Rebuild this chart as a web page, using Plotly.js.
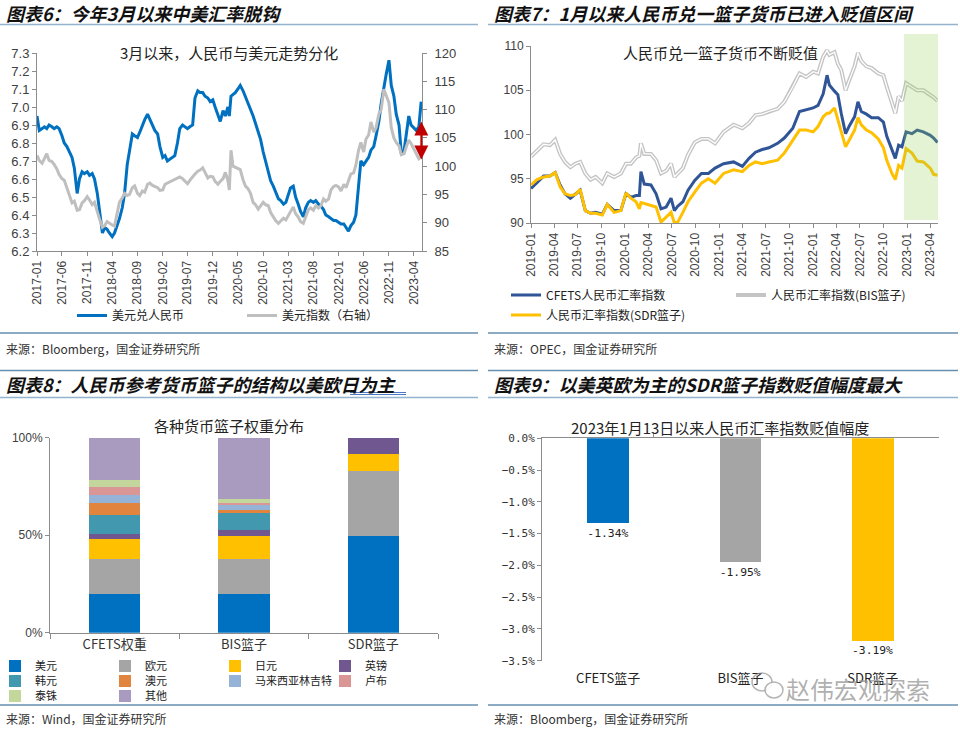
<!DOCTYPE html>
<html><head><meta charset="utf-8">
<script src="https://cdn.plot.ly/plotly-3.0.1.min.js"></script>
<style>html,body{margin:0;padding:0;background:#fff;}#chart{width:960px;height:730px;}</style>
</head><body><div id="chart"></div>
<script>
// ---------- Panel 1: USD/CNY vs DXY ----------
const p1Dates = [
'2017-01-01','2017-01-15','2017-02-01','2017-02-15','2017-03-01','2017-03-15','2017-04-01','2017-04-15','2017-05-01','2017-05-15','2017-06-01','2017-06-15','2017-07-01','2017-07-15','2017-08-01','2017-08-15','2017-09-01','2017-09-15','2017-10-01','2017-10-15','2017-11-01','2017-11-15','2017-12-01','2017-12-15',
'2018-01-01','2018-01-15','2018-02-01','2018-02-15','2018-03-01','2018-03-15','2018-04-01','2018-04-15','2018-05-01','2018-05-15','2018-06-01','2018-06-15','2018-07-01','2018-07-15','2018-08-01','2018-08-15','2018-09-01','2018-09-15','2018-10-01','2018-10-15','2018-11-01','2018-11-15','2018-12-01','2018-12-15',
'2019-01-01','2019-01-15','2019-02-01','2019-02-15','2019-03-01','2019-03-15','2019-04-01','2019-04-15','2019-05-01','2019-05-15','2019-06-01','2019-06-15','2019-07-01','2019-07-15','2019-08-01','2019-08-15','2019-09-01','2019-09-15','2019-10-01','2019-10-15','2019-11-01','2019-11-15','2019-12-01','2019-12-15',
'2020-01-01','2020-01-15','2020-02-01','2020-02-15','2020-03-01','2020-03-10','2020-03-20','2020-04-01','2020-04-15','2020-05-01','2020-05-15','2020-06-01','2020-06-15','2020-07-01','2020-07-15','2020-08-01','2020-08-15','2020-09-01','2020-09-15','2020-10-01','2020-10-15','2020-11-01','2020-11-15','2020-12-01','2020-12-15',
'2021-01-01','2021-01-15','2021-02-01','2021-02-15','2021-03-01','2021-03-15','2021-04-01','2021-04-15','2021-05-01','2021-05-15','2021-06-01','2021-06-15','2021-07-01','2021-07-15','2021-08-01','2021-08-15','2021-09-01','2021-09-15','2021-10-01','2021-10-15','2021-11-01','2021-11-15','2021-12-01','2021-12-15',
'2022-01-01','2022-01-15','2022-02-01','2022-02-15','2022-03-01','2022-03-15','2022-04-01','2022-04-15','2022-05-01','2022-05-15','2022-06-01','2022-06-15','2022-07-01','2022-07-15','2022-08-01','2022-08-15','2022-09-01','2022-09-15','2022-10-01','2022-10-15','2022-11-01','2022-11-15','2022-12-01','2022-12-15',
'2023-01-01','2023-01-15','2023-02-01','2023-02-15','2023-03-01','2023-03-15','2023-04-01','2023-04-15','2023-05-01','2023-05-15'];
const p1UsdCny = [
6.95,6.87,6.88,6.89,6.88,6.90,6.89,6.88,6.89,6.88,6.84,6.80,6.78,6.75,6.72,6.66,6.52,6.60,6.64,6.63,6.64,6.62,6.63,6.60,
6.52,6.42,6.30,6.33,6.32,6.30,6.28,6.30,6.34,6.38,6.44,6.52,6.68,6.76,6.85,6.84,6.83,6.86,6.90,6.93,6.96,6.93,6.90,6.87,
6.85,6.78,6.72,6.73,6.70,6.71,6.72,6.73,6.80,6.88,6.90,6.89,6.88,6.89,6.90,7.05,7.09,7.08,7.08,7.06,7.05,7.03,7.04,7.00,
6.96,6.92,6.98,6.95,7.00,6.95,7.06,7.07,7.08,7.10,7.12,7.09,7.06,7.02,6.99,6.95,6.91,6.86,6.82,6.75,6.70,6.64,6.59,6.56,6.53,
6.49,6.48,6.46,6.47,6.51,6.55,6.56,6.50,6.46,6.42,6.39,6.44,6.47,6.48,6.47,6.48,6.46,6.45,6.43,6.40,6.39,6.38,6.37,6.37,
6.36,6.35,6.35,6.33,6.31,6.34,6.36,6.40,6.55,6.70,6.68,6.70,6.72,6.76,6.78,6.84,6.92,7.02,7.12,7.18,7.26,7.12,7.06,6.96,
6.90,6.74,6.76,6.85,6.95,6.90,6.88,6.87,6.89,7.03];
const p1Dxy = [
101.9,101.0,100.5,101.5,102.2,101.0,100.8,100.3,99.5,98.5,97.8,97.5,96.0,95.0,93.5,93.8,92.2,92.3,93.5,93.9,94.6,94.0,93.2,93.6,
91.8,90.6,89.2,89.5,90.2,89.9,89.6,89.4,91.8,93.6,94.4,95.2,94.8,95.0,96.2,96.5,95.2,94.8,95.6,95.4,96.8,97.0,96.6,96.4,
96.2,95.7,95.8,96.8,97.0,97.3,97.4,97.6,97.9,98.1,97.8,97.3,96.9,97.5,98.2,98.6,99.1,99.3,99.7,98.8,97.9,98.2,98.1,97.3,
96.8,97.3,97.8,98.9,97.5,95.8,102.8,100.0,99.8,99.6,99.4,97.6,96.5,96.0,95.3,93.6,93.2,92.4,92.9,93.6,93.2,93.0,91.8,91.0,90.4,
89.9,90.3,90.8,90.5,91.2,91.8,92.8,91.6,91.0,90.2,89.9,91.0,92.3,92.6,92.2,93.0,92.6,93.0,94.2,93.8,94.2,95.8,96.4,96.6,
96.3,95.6,96.8,96.2,97.4,98.6,98.8,100.2,102.8,104.2,102.5,104.8,105.5,107.8,106.0,106.8,109.2,110.0,113.6,112.4,111.2,106.8,105.0,104.2,
103.6,102.0,102.2,103.5,104.6,104.0,103.0,102.0,101.3,101.6];
const p1Names = ['美元兑人民币', '美元指数（右轴）'];
const p1ArrowDate = '2023-05-16', p1ArrowTop = 6.92, p1ArrowBottom = 6.70;

// ---------- Panel 2: RMB indices ----------
const p2Dates = [
'2019-01-01','2019-01-24','2019-02-19','2019-03-16','2019-04-05','2019-04-24','2019-05-13','2019-06-03','2019-06-22','2019-07-11','2019-07-31','2019-08-20','2019-09-09','2019-10-05','2019-10-24','2019-11-20','2019-12-16',
'2020-01-05','2020-01-24','2020-02-13','2020-02-26','2020-03-03','2020-03-16','2020-04-11','2020-05-01','2020-05-20','2020-06-09','2020-06-28','2020-07-11','2020-07-24','2020-08-13','2020-09-02','2020-09-28','2020-10-24','2020-11-20','2020-12-16',
'2021-01-18','2021-02-26',
'2021-04-01','2021-04-27','2021-05-22','2021-06-17','2021-07-13','2021-08-16','2021-09-11','2021-10-14','2021-11-09','2021-12-05',
'2022-01-01','2022-01-20','2022-02-09','2022-02-24','2022-03-05','2022-03-25','2022-04-07','2022-04-20','2022-05-07','2022-05-22','2022-06-11','2022-06-24','2022-07-07','2022-07-27','2022-08-16','2022-09-11','2022-10-01','2022-10-14','2022-11-03','2022-11-16','2022-11-29','2022-12-12','2022-12-28',
'2023-01-20','2023-02-09','2023-03-05','2023-04-01','2023-04-14','2023-04-29'];
const p2Cfets = [
93.9,94.6,95.3,95.3,95.7,94.3,93.3,92.8,93.2,93.7,91.4,91.1,91.2,91.0,92.1,91.4,91.4,
93.3,92.9,93.1,93.1,95.8,94.4,94.3,93.3,91.6,91.8,92.8,91.4,91.9,92.4,93.7,94.8,95.6,95.6,96.2,
96.7,96.9,
96.4,97.3,98.0,98.3,98.5,99.0,99.6,100.7,102.6,102.8,
103.0,103.3,104.6,106.7,105.6,104.9,104.5,102.4,100.1,101.0,102.0,103.7,102.6,102.3,101.9,101.9,101.4,99.8,98.3,97.3,98.8,98.6,100.3,
100.1,100.5,100.3,99.9,99.6,99.1];
const p2Bis = [
97.5,98.2,98.9,98.8,99.4,97.8,96.9,96.3,96.7,96.9,95.6,94.9,95.2,94.5,95.6,95.2,95.6,
96.7,96.7,97.4,97.6,99.0,97.8,97.8,97.1,95.6,95.9,96.7,95.2,95.6,96.2,97.7,99.1,99.5,99.5,99.0,
100.3,101.1,
100.7,101.3,102.2,102.3,102.6,102.9,103.7,105.4,106.9,106.5,
107.1,106.9,108.8,109.5,109.0,109.3,108.0,107.3,105.0,106.2,107.7,109.2,108.3,107.7,107.5,106.9,106.7,105.4,103.5,102.4,104.3,103.8,105.8,
105.4,105.0,105.0,104.5,104.2,103.8];
const p2Sdr = [
94.3,94.9,95.2,95.3,95.7,94.1,93.3,93.1,93.2,93.8,91.4,91.1,91.1,90.9,92.1,91.2,91.4,
93.4,92.8,92.4,91.6,92.3,92.2,92.0,91.8,90.1,90.7,91.2,90.0,90.1,91.2,92.4,93.5,94.5,95.0,94.5,
95.6,96.0,
95.8,96.5,96.9,96.7,96.9,97.1,97.9,99.4,100.5,100.5,
100.3,100.9,102.0,102.4,102.4,103.0,101.6,100.3,98.6,99.4,100.5,101.9,101.1,100.5,100.2,99.5,98.5,97.1,95.6,94.9,96.5,96.2,98.4,
97.9,97.0,96.9,96.2,95.5,95.4];
const p2Names = ['CFETS人民币汇率指数', '人民币汇率指数(BIS篮子)', '人民币汇率指数(SDR篮子)'];
const p2ShadeStart = '2022-12-20';

// ---------- Panel 3: basket weights (%) ----------
const p3Categories = ['CFETS权重', 'BIS篮子', 'SDR篮子'];
const p3Currencies = ['美元','欧元','日元','英镑','韩元','澳元','马来西亚林吉特','卢布','泰铢','其他'];
const p3Usd   = [19.8, 19.7, 49.45];
const p3Eur   = [18.1, 17.9, 33.41];
const p3Jpy   = [10.0, 12.0, 8.65];
const p3Gbp   = [2.7, 3.1, 8.49];
const p3Krw   = [9.6, 8.5, 0];
const p3Aud   = [6.2, 1.7, 0];
const p3Myr   = [4.4, 2.6, 0];
const p3Rub   = [4.1, 0.9, 0];
const p3Thb   = [3.4, 2.2, 0];
const p3Other = [21.7, 31.4, 0];

// ---------- Panel 4: depreciation since 2023-01-13 (%) ----------
const p4Categories = ['CFETS篮子', 'BIS篮子', 'SDR篮子'];
const p4Values = [-1.34, -1.95, -3.19];

// ---------- helpers ----------
const W = 960, H = 730;
const fx = x => x / W;
const fy = y => 1 - y / H;
const tickFont = {family: 'Liberation Sans, Arial, sans-serif', size: 12, color: '#404040'};
const cjk = 'Noto Sans CJK SC, sans-serif';
const axisGray = '#8c8c8c';

const p3Series = [p3Usd,p3Eur,p3Jpy,p3Gbp,p3Krw,p3Aud,p3Myr,p3Rub,p3Thb,p3Other];
const p3Colors = ['#0070C0','#A5A5A5','#FFC000','#71578F','#4198AF','#E0843E','#95B3D7','#D99694','#C3D69B','#A89BBF'];
const p3Legends = ['legend4','legend4','legend4','legend4','legend5','legend5','legend5','legend5','legend6','legend6'];
const p4Colors = ['#0070C0','#A5A5A5','#FFC000'];

const traces = [
  {type:'scatter', mode:'lines', x:p1Dates, y:p1UsdCny, xaxis:'x', yaxis:'y', name:p1Names[0],
   line:{color:'#0070C0', width:3}, legend:'legend'},
  {type:'scatter', mode:'lines', x:p1Dates, y:p1Dxy, xaxis:'x', yaxis:'y2', name:p1Names[1],
   line:{color:'#BFBFBF', width:3}, legend:'legend'},
  {type:'scatter', mode:'lines', x:p2Dates, y:p2Bis, xaxis:'x2', yaxis:'y3', name:p2Names[1],
   line:{color:'#C4C4C4', width:4}, legend:'legend2', legendrank:2},
  {type:'scatter', mode:'lines', x:p2Dates, y:p2Bis, xaxis:'x2', yaxis:'y3', name:p2Names[1],
   line:{color:'#FFFFFF', width:1.3}, showlegend:false},
  {type:'scatter', mode:'lines', x:p2Dates, y:p2Cfets, xaxis:'x2', yaxis:'y3', name:p2Names[0],
   line:{color:'#2F5597', width:3}, legend:'legend2', legendrank:1},
  {type:'scatter', mode:'lines', x:p2Dates, y:p2Sdr, xaxis:'x2', yaxis:'y3', name:p2Names[2],
   line:{color:'#FFC000', width:3}, legend:'legend3'}
];
p3Series.forEach((s, i) => traces.push({
  type:'bar', x:p3Categories, y:s, xaxis:'x3', yaxis:'y4', name:p3Currencies[i],
  marker:{color:p3Colors[i]}, width:0.395, legend:p3Legends[i]
}));
traces.push({
  type:'bar', x:p4Categories, y:p4Values, xaxis:'x4', yaxis:'y5', showlegend:false,
  marker:{color:p4Colors}, width:0.315,
  text:p4Values.map(v => v.toFixed(2) + '%'), textposition:'outside', cliponaxis:false,
  textfont:{family:'DejaVu Sans Mono, monospace', size:12, color:'#222'}
});
traces.push({
  type:'scatter', mode:'markers', x:p4Categories, y:[0,0,0], xaxis:'x5', yaxis:'y5',
  marker:{opacity:0}, showlegend:false, hoverinfo:'skip'
});

const baseAx = {showgrid:false, zeroline:false, showline:true, linecolor:axisGray, linewidth:1,
  ticks:'outside', ticklen:4, tickcolor:axisGray, tickfont:tickFont};

const legendBase = {orientation:'h', xanchor:'left', yanchor:'middle', bgcolor:'rgba(0,0,0,0)',
  font:{family:cjk, size:12, color:'#222'}, traceorder:'normal', itemclick:false};
const legendBars = Object.assign({}, legendBase, {font:{family:cjk, size:11, color:'#222'}, entrywidth:65});

const headerFont = {family:cjk, size:18, weight:'bold', style:'italic', color:'#111'};
const subTitleFont = {family:cjk, size:15, color:'#222'};
const srcFont = {family:cjk, size:12, color:'#333'};

const ann = (x, y, text, font, xanchor) => ({xref:'paper', yref:'paper', x:fx(x), y:fy(y), text:text,
  showarrow:false, font:font, xanchor:xanchor || 'left', yanchor:'middle'});

const hline = (x0, x1, y, color, w) => ({type:'line', xref:'paper', yref:'paper',
  x0:fx(x0), x1:fx(x1), y0:fy(y), y1:fy(y), line:{color:color, width:w}});

const lightLine = '#93B3CE', darkLine = '#6690B2';

const layout = {
  width:W, height:H, margin:{l:0, r:0, t:0, b:0, autoexpand:false}, paper_bgcolor:'#fff', plot_bgcolor:'rgba(0,0,0,0)',
  showlegend:true, barmode:'stack', hovermode:false, font:{family:cjk},
  xaxis: Object.assign({}, baseAx, {domain:[fx(37), fx(422)], anchor:'y', type:'date',
    range:['2017-01-01','2023-05-20'], tick0:'2017-01-01', dtick:'M5', tickformat:'%Y-%m', tickangle:-90}),
  yaxis: Object.assign({}, baseAx, {domain:[fy(251), fy(53)], anchor:'x', range:[6.2, 7.3], dtick:0.1,
    tickformat:'.1f', tickfont:Object.assign({}, tickFont, {size:13})}),
  yaxis2: Object.assign({}, baseAx, {overlaying:'y', side:'right', anchor:'x', range:[85, 120], dtick:5,
    ticklabelstandoff:5, tickfont:Object.assign({}, tickFont, {size:13})}),
  xaxis2: Object.assign({}, baseAx, {domain:[fx(531), fx(938)], anchor:'y3', type:'date',
    range:['2019-01-01','2023-05-01'], tick0:'2019-01-01', dtick:'M3', tickformat:'%Y-%m', tickangle:-90}),
  yaxis3: Object.assign({}, baseAx, {domain:[fy(223), fy(46)], anchor:'x2', range:[90, 110], dtick:5}),
  xaxis3: Object.assign({}, baseAx, {domain:[fx(50), fx(438)], anchor:'y4', type:'category',
    tickson:'boundaries', ticklen:5, tickfont:{family:cjk, size:13, color:'#333'}}),
  yaxis4: Object.assign({}, baseAx, {domain:[fy(632.7), fy(437.7)], anchor:'x3', range:[0, 100],
    tickmode:'linear', tick0:0, dtick:50, ticksuffix:'%', showticksuffix:'all'}),
  xaxis4: Object.assign({}, baseAx, {domain:[fx(542), fx(939)], anchor:'y5', type:'category',
    showline:false, ticks:'', ticklabelstandoff:8, tickfont:{family:cjk, size:13, color:'#222'}}),
  xaxis5: Object.assign({}, baseAx, {overlaying:'x4', anchor:'y5', side:'top', type:'category',
    tickson:'boundaries', ticklen:5, showticklabels:false}),
  yaxis5: Object.assign({}, baseAx, {domain:[fy(660.7), fy(438.3)], anchor:'x4', range:[-3.5, 0],
    dtick:0.5, tickformat:'.1f', ticksuffix:'%', tickfont:{family:'DejaVu Sans Mono, monospace', size:11, color:'#333'}}),
  legend: Object.assign({}, legendBase, {x:fx(72), y:fy(315.5), entrywidth:125}),
  legend2: Object.assign({}, legendBase, {x:fx(506), y:fy(295), entrywidth:180}),
  legend3: Object.assign({}, legendBase, {x:fx(506), y:fy(315), entrywidth:180}),
  legend4: Object.assign({}, legendBars, {x:fx(-5), y:fy(666)}),
  legend5: Object.assign({}, legendBars, {x:fx(-5), y:fy(681)}),
  legend6: Object.assign({}, legendBars, {x:fx(-5), y:fy(696)}),
  shapes: [
    {type:'rect', xref:'x2', yref:'paper', x0:p2ShadeStart, x1:'2023-05-01', y0:fy(220), y1:fy(34),
     fillcolor:'rgba(146,208,80,0.25)', line:{width:0}, layer:'above'},
    hline(0, 478, 24.5, lightLine, 1.5), hline(488, 958, 24.5, lightLine, 1.5),
    hline(0, 478, 333, darkLine, 1.5), hline(488, 958, 333, darkLine, 1.5),
    hline(0, 478, 370.5, darkLine, 1.5), hline(488, 958, 370.5, darkLine, 1.5),
    hline(0, 478, 397.5, lightLine, 1.5), hline(488, 958, 397.5, lightLine, 1.5),
    hline(0, 478, 705, darkLine, 1.5), hline(488, 958, 705, darkLine, 1.5),
    hline(350, 406, 392.5, '#4A78C2', 1), hline(350, 406, 394.5, '#4A78C2', 1),
    {type:'circle', xref:'paper', yref:'paper', x0:fx(752), x1:fx(772), y0:fy(691), y1:fy(673),
     line:{color:'rgba(150,150,150,0.7)', width:1.5}},
    {type:'circle', xref:'paper', yref:'paper', x0:fx(765), x1:fx(783), y0:fy(698), y1:fy(682),
     line:{color:'rgba(150,150,150,0.7)', width:1.5}, fillcolor:'rgba(255,255,255,0.9)'}
  ],
  annotations: [
    ann(4, 13, '图表6：今年3月以来中美汇率脱钩', headerFont),
    ann(492, 13, '图表7：1月以来人民币兑一篮子货币已进入贬值区间', headerFont),
    ann(4, 384, '图表8：人民币参考货币篮子的结构以美欧日为主', headerFont),
    ann(492, 384, '图表9：以美英欧为主的SDR篮子指数贬值幅度最大', headerFont),
    ann(229, 53, '3月以来，人民币与美元走势分化', subTitleFont, 'center'),
    ann(720, 53, '人民币兑一篮子货币不断贬值', subTitleFont, 'center'),
    ann(229, 425, '各种货币篮子权重分布', subTitleFont, 'center'),
    ann(720, 427, '2023年1月13日以来人民币汇率指数贬值幅度', subTitleFont, 'center'),
    ann(4, 348, '来源：Bloomberg，国金证券研究所', srcFont),
    ann(492, 348, '来源：OPEC，国金证券研究所', srcFont),
    ann(4, 718, '来源：Wind，国金证券研究所', srcFont),
    ann(492, 718, '来源：Bloomberg，国金证券研究所', srcFont),
    ann(858, 688, '赵伟宏观探索', {family:cjk, size:24, color:'rgba(150,150,150,0.75)'}, 'center'),
    {xref:'x', yref:'y', axref:'x', ayref:'y', x:p1ArrowDate, y:p1ArrowTop, ax:p1ArrowDate, ay:p1ArrowBottom,
     text:'', showarrow:true, arrowside:'end+start', arrowhead:2, startarrowhead:2,
     arrowsize:1.4, startarrowsize:1.4, arrowwidth:2, arrowcolor:'#C00000'}
  ]
};

Plotly.newPlot('chart', traces, layout, {staticPlot:true, displayModeBar:false});
</script></body></html>
